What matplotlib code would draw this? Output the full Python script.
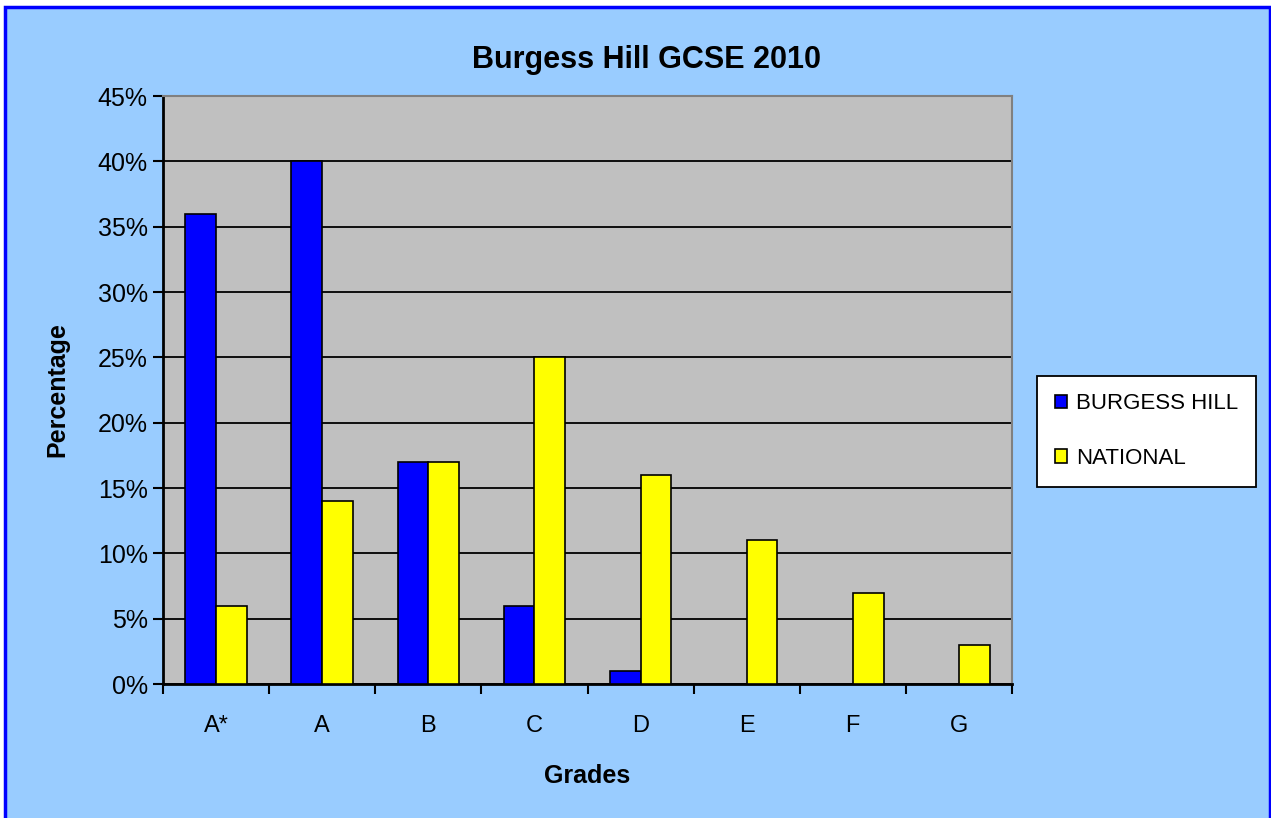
import numpy as np
import matplotlib.pyplot as plt
from matplotlib.patches import Rectangle

plt.rcParams['font.family'] = ['Liberation Sans', 'DejaVu Sans']

# data
grades = ["A*", "A", "B", "C", "D", "E", "F", "G"]
burgess_hill = [36, 40, 17, 6, 1, 0, 0, 0]
national = [6, 14, 17, 25, 16, 11, 7, 3]

fig = plt.figure(figsize=(12.71, 8.18), dpi=100)
fig.patch.set_facecolor('white')

# light blue chart area with blue border
fig.patches.append(Rectangle((5 / 1271, -0.01), 1265 / 1271, 1 - 7 / 818 + 0.01,
                             transform=fig.transFigure, facecolor='#99CCFF',
                             edgecolor='#0000FF', linewidth=2.5, zorder=-1))

ax = fig.add_axes([163 / 1271, 1 - 684 / 818, (1012 - 163) / 1271, (684 - 96) / 818])
ax.set_facecolor('#C0C0C0')

x = np.arange(len(grades))
w = 0.29
ax.bar(x - w / 2, burgess_hill, w, color='#0000FF', edgecolor='black', linewidth=1.2,
       label='BURGESS HILL', zorder=3)
ax.bar(x + w / 2, national, w, color='#FFFF00', edgecolor='black', linewidth=1.2,
       label='NATIONAL', zorder=3)

ax.set_xlim(-0.5, len(grades) - 0.5)
ax.set_ylim(0, 45)
ax.set_yticks(range(0, 46, 5))
ax.set_yticklabels([f"{v}%" for v in range(0, 46, 5)], fontsize=18)
ax.set_xticks(x)
ax.set_xticklabels(grades, fontsize=17)
ax.tick_params(axis='x', length=0, pad=22)
ax.set_xticks(np.arange(-0.5, len(grades), 1), minor=True)
ax.tick_params(axis='x', which='minor', length=7, width=1.5, direction='out')
ax.tick_params(axis='y', length=7, width=1.5, direction='out', pad=4)

ax.grid(axis='y', color='black', linewidth=1.3, zorder=0)
ax.set_axisbelow(True)
for s in ['top', 'right']:
    ax.spines[s].set_color('#808080')
    ax.spines[s].set_linewidth(1.5)
for s in ['left', 'bottom']:
    ax.spines[s].set_linewidth(2)

ax.set_xlabel('Grades', fontsize=18, fontweight='bold', labelpad=20)
ax.set_ylabel('Percentage', fontsize=18, fontweight='bold', labelpad=20)
fig.text(646 / 1271, 1 - 60 / 818, 'Burgess Hill GCSE 2010', fontsize=22,
         fontweight='bold', ha='center', va='center')

leg = ax.legend(loc='center left', bbox_to_anchor=(1.0295, 0.43), borderaxespad=0,
                fontsize=16, frameon=True, fancybox=False, edgecolor='black',
                framealpha=1, handlelength=0.55, handleheight=0.55, handletextpad=0.4,
                labelspacing=1.5, borderpad=0.8)
leg.get_frame().set_linewidth(1.3)

fig.savefig('out.png', dpi=100)
